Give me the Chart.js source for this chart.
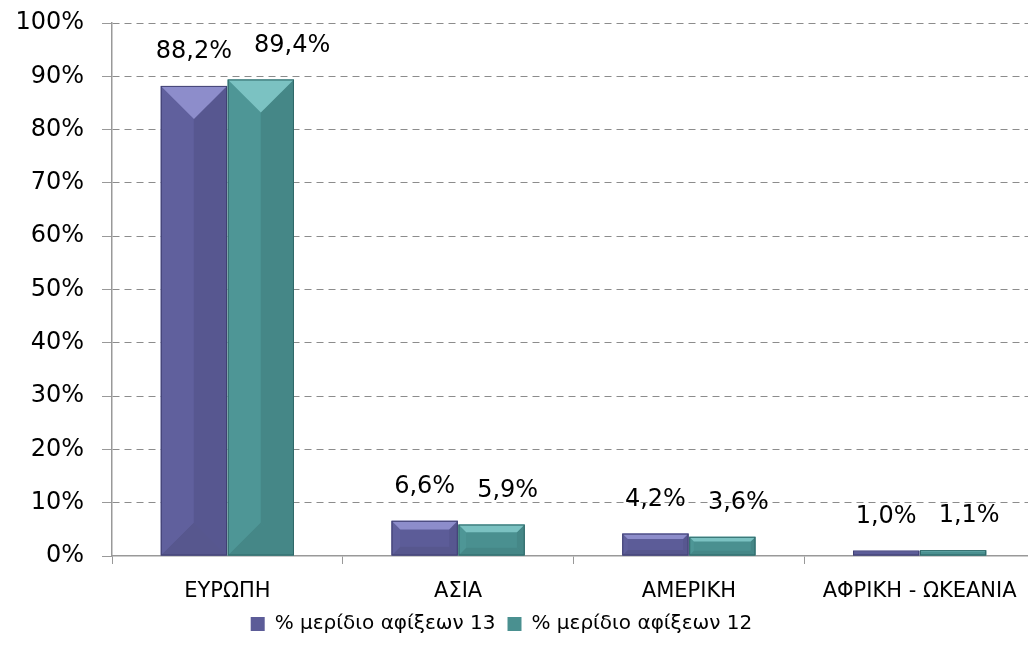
<!DOCTYPE html>
<html>
<head>
<meta charset="utf-8">
<script src="https://cdn.jsdelivr.net/npm/chart.js@4/dist/chart.umd.min.js"></script>
<style>
  html, body { margin: 0; padding: 0; overflow: hidden; background: #fff; }
  #wrap { width: 1040px; height: 658px; }
</style>
</head>
<body>
<div id="wrap"><canvas id="arrivals-chart"></canvas></div>
<script>
const regions = ["ΕΥΡΩΠΗ", "ΑΣΙΑ", "ΑΜΕΡΙΚΗ", "ΑΦΡΙΚΗ - ΩΚΕΑΝΙΑ"];
const share13 = [88.2, 6.6, 4.2, 1.0];
const share12 = [89.4, 5.9, 3.6, 1.1];
const seriesNames = ["% μερίδιο αφίξεων 13", "% μερίδιο αφίξεων 12"];

const FONT = "'DejaVu Sans', sans-serif";

// face colours for the bevelled bars: [front, top, left, right, bottom, edge]
const faces = [
  ["#5c5c98", "#8d8dcb", "#60609d", "#575790", "#57578e", "#404072"],
  ["#4a9090", "#7bc2c2", "#4e9696", "#458787", "#458787", "#2f6868"],
];

function fmt(v) {
  return v.toFixed(1).replace(".", ",") + "%";
}

const bevelPlugin = {
  id: "bevel",
  afterDatasetsDraw(chart) {
    const ctx = chart.ctx;
    chart.data.datasets.forEach((ds, i) => {
      const c = faces[i];
      chart.getDatasetMeta(i).data.forEach((bar) => {
        const l = bar.x - bar.width / 2, r = bar.x + bar.width / 2;
        const t = bar.y, b = bar.base;
        const h = b - t;
        const d = Math.min(bar.width / 2, h / 4);
        const poly = (pts, col) => {
          ctx.beginPath();
          ctx.moveTo(pts[0][0], pts[0][1]);
          pts.slice(1).forEach((p) => ctx.lineTo(p[0], p[1]));
          ctx.closePath();
          ctx.fillStyle = col;
          ctx.fill();
        };
        ctx.save();
        poly([[l, b], [r, b], [r - d, b - d], [l + d, b - d]], c[4]);
        poly([[l, t], [l + d, t + d], [l + d, b - d], [l, b]], c[2]);
        poly([[r, t], [r - d, t + d], [r - d, b - d], [r, b]], c[3]);
        poly([[l, t], [r, t], [r - d, t + d], [l + d, t + d]], c[1]);
        ctx.strokeStyle = c[5];
        ctx.lineWidth = 1;
        ctx.strokeRect(l + 0.5, t + 0.5, bar.width - 1, h - 1);
        ctx.restore();
      });
    });
  },
};

const valueLabelPlugin = {
  id: "valueLabels",
  afterDatasetsDraw(chart) {
    const ctx = chart.ctx;
    ctx.save();
    ctx.font = "24px " + FONT;
    ctx.fillStyle = "#000";
    ctx.textAlign = "center";
    ctx.textBaseline = "middle";
    const m0 = chart.getDatasetMeta(0).data;
    const m1 = chart.getDatasetMeta(1).data;
    m0.forEach((bar0, k) => {
      const bar1 = m1[k];
      const t0 = fmt(chart.data.datasets[0].data[k]);
      const t1 = fmt(chart.data.datasets[1].data[k]);
      const w0 = ctx.measureText(t0).width;
      const w1 = ctx.measureText(t1).width;
      let x0 = bar0.x;
      let x1 = bar1.x;
      // push the second label right when the two would touch
      const gap = 22;
      if (x1 - w1 / 2 < x0 + w0 / 2 + gap) {
        x1 = x0 + w0 / 2 + gap + w1 / 2;
      }
      ctx.fillText(t0, x0, bar0.y - 34);
      ctx.fillText(t1, x1, bar1.y - 34);
    });
    ctx.restore();
  },
};

const shiftLegend = {
  id: "shiftLegend",
  afterLayout(chart) {
    chart.legend.left -= 16;
    chart.legend.right -= 16;
  },
};

const chartData = {
  type: "bar",
  data: {
    labels: regions,
    datasets: [
      {
        label: seriesNames[0],
        data: share13,
        backgroundColor: faces[0][0],
        borderWidth: 0,
      },
      {
        label: seriesNames[1],
        data: share12,
        backgroundColor: faces[1][0],
        borderWidth: 0,
      },
    ],
  },
  options: {
    responsive: true,
    maintainAspectRatio: false,
    animation: false,
    categoryPercentage: 0.58,
    barPercentage: 0.99,
    layout: {
      padding: { top: 23, right: 5, bottom: 14, left: 0 },
    },
    plugins: {
      legend: {
        position: "bottom",
        labels: {
          color: "#000",
          font: { family: FONT, size: 20 },
          boxWidth: 14,
          boxHeight: 14,
          padding: 12,
        },
      },
      tooltip: { enabled: false },
    },
    scales: {
      x: {
        grid: {
          drawOnChartArea: false,
          drawTicks: true,
          tickLength: 8,
          tickColor: "#999",
        },
        border: { color: "#999", width: 1.5 },
        ticks: {
          color: "#000",
          font: { family: FONT, size: 21 },
          padding: 15,
          maxRotation: 0,
        },
        afterFit: (scale) => {
          scale.height = 46;
        },
      },
      y: {
        min: 0,
        max: 100,
        grid: {
          color: (c) => (c.tick && c.tick.value === 0 ? "rgba(0,0,0,0)" : "#8c8c8c"),
          lineWidth: 1,
          tickLength: 10,
          tickColor: "#999",
          tickBorderDash: [],
        },
        border: { color: "#999", width: 1.5, dash: [7, 5] },
        ticks: {
          stepSize: 10,
          color: "#000",
          font: { family: FONT, size: 24 },
          padding: 18,
          callback: (v) => v + "%",
        },
        afterFit: (scale) => {
          scale.width = 112;
          scale.paddingTop = 0;
          scale.paddingBottom = 0;
        },
      },
    },
  },
  plugins: [bevelPlugin, valueLabelPlugin, shiftLegend],
};

const arrivalsChart = new Chart(
  document.getElementById("arrivals-chart"),
  chartData
);
</script>
</body>
</html>
